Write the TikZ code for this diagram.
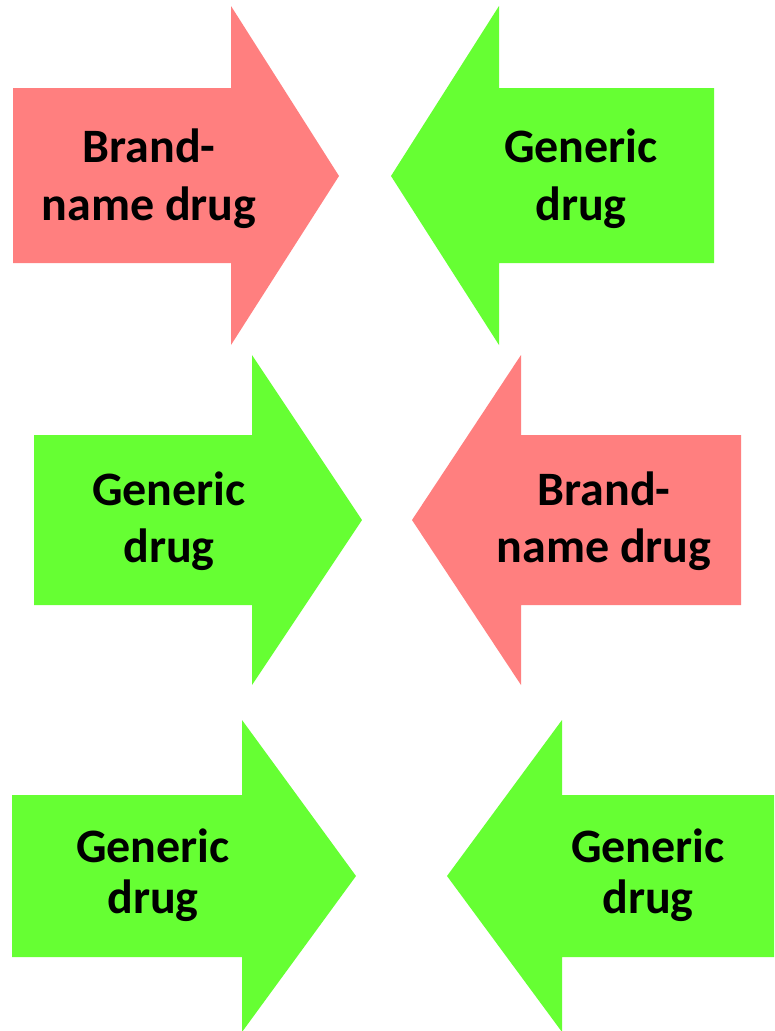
\documentclass[tikz,border=0pt]{standalone}
\usepackage{fontspec}
\setmainfont{Carlito}
\definecolor{brandred}{HTML}{FF7F7F}
\definecolor{genericgreen}{HTML}{66FF33}
\begin{document}
\begin{tikzpicture}[x=1pt, y=-1pt,
    drugtext/.style={align=center, anchor=base, inner sep=0pt, font=\bfseries\fontsize{48}{58}\selectfont}]
    \useasboundingbox (0,0) rectangle (774,1031);

    \fill[brandred] (13,88) -- (231,88) -- (231,6) -- (339,176) -- (231,345) -- (231,263) -- (13,263) -- cycle;
    \fill[genericgreen] (714,88) -- (499,88) -- (499,6) -- (391,176) -- (499,345) -- (499,263) -- (714,263) -- cycle;

    \fill[genericgreen] (34,435) -- (252,435) -- (252,355) -- (362,520) -- (252,685) -- (252,605) -- (34,605) -- cycle;
    \fill[brandred] (741,435) -- (521,435) -- (521,355) -- (412,520) -- (521,685) -- (521,605) -- (741,605) -- cycle;

    \fill[genericgreen] (12,795) -- (242,795) -- (242,720) -- (356,876) -- (242,1032) -- (242,957) -- (12,957) -- cycle;
    \fill[genericgreen] (774,795) -- (562,795) -- (562,720) -- (447,876) -- (562,1032) -- (562,957) -- (774,957) -- cycle;

    \node[drugtext] (brandA) at (149,220) {Brand-\\name drug};
    \node[drugtext] (genericA) at (581,220) {Generic\\drug};
    \node[drugtext, font=\bfseries\fontsize{48}{57}\selectfont] (genericB) at (169,562) {Generic\\drug};
    \node[drugtext, font=\bfseries\fontsize{48}{57}\selectfont] (brandB) at (604,562) {Brand-\\name drug};
    \node[drugtext, font=\bfseries\fontsize{48}{51}\selectfont] (genericC) at (153,913) {Generic\\drug};
    \node[drugtext, font=\bfseries\fontsize{48}{51}\selectfont] (genericD) at (648,913) {Generic\\drug};
\end{tikzpicture}
\end{document}
